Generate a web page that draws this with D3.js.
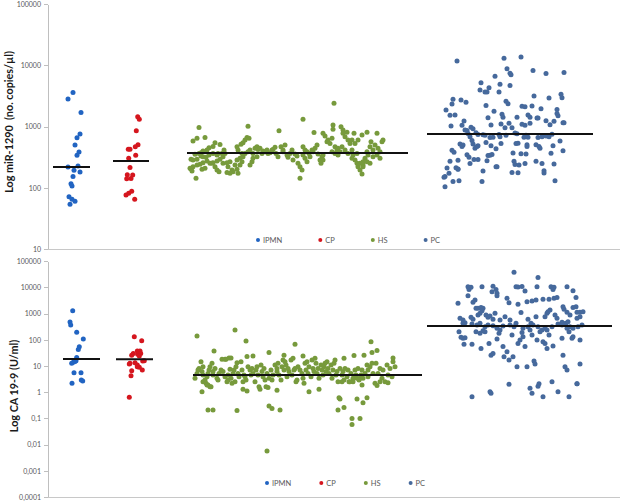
<!DOCTYPE html>
<html lang="en">
<head>
<meta charset="UTF-8">
<title>miR-1290 and CA 19-9</title>
<script src="https://cdn.jsdelivr.net/npm/d3@7"></script>
<style>
  body { margin: 0; background: #fff; }
  svg text { font-family: Lato, "Open Sans", sans-serif; fill: #595959; }
  .axis path, .axis line { stroke: #bfbfbf; shape-rendering: crispEdges; }
  .ytitle { font-weight: bold; fill: #1a1a1a; white-space: pre; }
</style>
</head>
<body>
<script>
// groups and colours
const groups = ["IPMN", "CP", "HS", "PC"];
const groupColors = ["#2164c2", "#d5161e", "#779a3c", "#46699c"];

// ---- top panel: miR-1290 (no. copies/µl), points are [x jitter, value] ----
const mirIPMN = [[33,3600],[28,2800],[41,1700],[40,755],[37,656],[35,500],[39,383],[37,339],[28,218],[38,227],
  [34,193],[40,181],[33,152],[31,116],[32,107],[29,71],[32,65],[35,60],[30,54]];
const mirCP = [[97.7,1446],[99.3,1310],[96.3,855],[98,503],[95.3,467],[90,424],[88.3,424],[95.7,338],[88.7,302],
  [90,215],[87.3,163],[92.7,161],[91,142],[86.7,140],[91.7,88],[88.7,81],[86,76],[94.7,65]];
const mirHS = [
  [159,960],[153,580],[157,640],[165,660],[175,545],[180,510],[173,470],[169,450],[167,413],[163,398],
  [161,373],[159,364],[155,351],[151,291],[153,284],[157,291],[161,330],[163,322],[166,314],[169,343],
  [173,364],[177,343],[178,364],[182,364],[184,413],[185,364],[183,322],[180,291],[177,273],[173,257],
  [170,251],[167,273],[163,257],[160,242],[157,235],[153,221],[151,203],[150,208],[152,188],[156,143],
  [162,200],[165,208],[172,251],[175,221],[177,195],[179,183],[183,251],[187,257],[190,267],[188,221],
  [192,195],[193,183],[190,172],[187,177],[197,200],[198,172],[195,235],[197,284],[200,303],[202,364],
  [198,413],[197,469],[201,511],[203,543],[205,602],[207,660],[208,1010],[209,641],[210,413],[208,388],
  [205,364],[203,322],[202,267],[200,235],[210,235],[212,267],[213,364],[215,440],[217,469],[218,423],
  [220,440],[222,364],[223,398],[217,322],[213,303],
  [225,388],[227,413],[228,364],[230,373],[232,413],[233,423],[235,458],[236,364],[238,322],[239,855],
  [241,469],[243,388],[243,413],[245,499],[247,343],[248,314],[250,364],[252,413],[253,284],[255,356],
  [257,330],[258,251],[260,221],[262,195],[260,143],[263,1310],[263,469],[265,413],[267,388],[263,343],
  [265,303],[267,267],[270,322],[269,364],[272,413],[273,388],[275,440],[277,499],[274,795],[278,356],
  [280,284],[282,322],[283,343],[283,284],[281,251],
  [283,775],[285,700],[287,565],[288,602],[290,530],[292,641],[293,900],[294,2400],[293,1060],[295,469],
  [297,413],[298,440],[300,388],[301,995],[303,877],[303,775],[305,683],[307,805],[308,602],[310,530],
  [312,413],[313,343],[314,775],[315,284],[317,251],[318,221],[320,195],[322,168],[323,235],[323,267],
  [325,303],[327,388],[328,343],[330,469],[331,565],[327,805],[322,727],[318,602],[315,530],[312,602],
  [333,413],[335,499],[337,775],[338,440],[340,388],[342,565],[343,602],[340,303],[337,343],[333,322],
  [330,251],[327,267],[323,221],[320,251],[317,364],[312,303],[308,364],[305,413],[302,469],[298,343],
  [295,364],[292,388]];
const mirPC = [
  [417,11700],[464,13000],[481,13600],[467,8800],[470,7400],[471,7000],[455,6600],[493,8200],[506,7300],[524,7650],
  [441,5200],[460,4900],[470,4650],[449,4300],[440,3940],[445,3660],[447,3660],[459,3660],[494,3150],[509,2920],
  [521,3350],[522,2950],[413,2780],[412,2330],[421,2700],[426,2480],[466,2580],[468,2350],[446,2200],[406,1860],
  [410,1520],[415,1540],[454,1770],[462,1580],[463,1410],[482,2140],[485,2110],[492,2160],[501,1950],[517,1890],
  [517,1630],[518,1500],[477,1410],[488,1540],[490,1410],[497,1380],[498,1380],[506,1240],[514,1220],[523,1150],
  [524,1150],[411,1020],[422,1050],[424,1230],[448,1390],[451,1060],[461,1100],[469,1130],[431,970],[433,920],
  [425,880],[427,860],[465,950],[472,950],[482,1090],[485,1050],[490,1130],[510,1070],[436,790],[438,740],
  [443,730],[445,720],[450,660],[453,670],[459,740],[460,680],[466,720],[475,780],[477,760],[484,670],
  [486,720],[488,670],[498,660],[502,680],[506,700],[509,680],[512,750],[428,770],[430,680],[432,590],
  [420,520],[423,500],[422,470],[412,410],[414,380],[433,520],[435,440],[437,470],[438,485],[446,550],
  [451,485],[456,435],[461,530],[476,530],[478,535],[487,505],[487,470],[496,505],[499,470],[500,440],
  [513,485],[520,580],[523,400],[427,345],[429,315],[434,290],[438,290],[448,335],[450,340],[452,350],
  [473,370],[481,360],[486,355],[511,365],[430,250],[410,270],[418,280],[418,200],[447,275],[474,270],
  [475,240],[479,235],[485,250],[496,272],[502,250],[514,245],[456,220],[457,220],[407,210],[409,172],
  [405,152],[404,148],[416,213],[418,203],[443,188],[472,178],[478,175],[504,190],[504,174],[413,127],
  [419,130],[442,127],[515,130],[405,104]];
const mirMedians = [218, 273, 369, 753];
const mirMedianSpans = [[13,50],[73,109],[147,368],[387,553]];
const mirTicks = [10, 100, 1000, 10000, 100000];
const mirTickLabels = ["10", "100", "1000", "10000", "100000"];

// ---- bottom panel: CA 19-9 (U/ml) ----
const caIPMN = [[32.7,1290],[30,480],[30.7,370],[36.7,193],[43.3,107],[39.3,54],[38.3,43],[36.7,21],[36,16],
  [33.3,14],[31.7,12.7],[34,5.5],[41,5.5],[32,2.2],[41.3,2.9],[42.7,2.7],[35,15]];
const caCP = [[94.3,131],[101.7,92],[91.7,26],[93.3,30],[97.3,37],[100,37],[97.7,28],[100.7,30],[99.3,24],
  [90,12.7],[95,13.4],[97.3,10.9],[99.3,8.9],[102.7,15.5],[104.3,16],[91.7,6.6],[91,4.2],[102.3,7],
  [89.3,0.64],[97.3,9.4],[89.3,12]];
const caHS = [
  [157,140],[195,237],[206,90],[174,37],[229,33],[255,68],[331,85],[263,24],[244,26],[185,18],
  [189,20],[337,39],[332,33],[324,26],[314,25],[304,19.6],[353,20],
  [168,0.21],[173,0.21],[197,0.2],[229,0.3],[232,0.24],[240,0.21],[299,0.62],[300,0.55],[298,0.21],
  [304,0.26],[312,0.099],[312,0.058],[320,0.099],[317,0.55],[323,0.4],[327,0.62],[162,1.05],[170,1.6],
  [168,1.9],[203,1.3],[207,1.1],[220,1.3],[228,1.5],[237,1.2],[269,1.05],[279,1.3],[302,2.5],[310,2.5],
  [313,2.5],[320,3.4],[322,1.9],[328,3.9],[337,1.8],[340,2.5],[348,2.3],[227,0.0057],
  [155,3.4],[157,5.2],[158,7.0],[159,8.1],[161,14.6],[162,6.1],[163,4.5],[163,2.5],[165,2.9],[167,3.9],
  [166,2.2],[168,5.2],[169,7.0],[170,9.4],[172,12.7],[173,4.5],[173,6.1],[163,9.4],[167,1.9],[171,1.6],
  [175,8.1],[177,3.4],[178,2.9],[179,5.2],[181,7.0],[182,18],[183,6.1],[185,3.9],[186,18],[187,2.5],
  [188,2.9],[188,4.5],[190,7.5],[191,3.4],[192,2.2],[193,5.2],[194,7.0],[195,2.5],[196,9.4],[191,20],
  [197,13.4],[198,5.2],[199,3.9],[201,14.6],[202,7.0],[203,2.5],[204,4.5],[205,3.9],[206,2.9],[207,22.8],
  [208,9.4],[210,7.0],[211,4.5],[212,8.1],[213,24],[213,5.2],[215,2.5],[216,7.0],[217,9.4],[218,4.5],
  [219,1.6],[221,10.9],[222,6.1],[223,3.9],[224,8.1],[225,2.9],[226,1.6],[227,5.2],[229,3.4],[231,7.0],
  [232,2.9],[233,4.5],[235,10.9],[237,6.1],[237,8.1],[238,12.7],[239,4.5],[241,2.9],[242,9.4],[243,17],
  [244,7.0],[245,14.6],[246,10.9],[247,3.9],[248,8.1],[249,6.1],[251,17],[252,4.5],[253,19.6],[254,7.0],
  [255,8.1],[256,2.5],[257,2.9],[258,9.4],[260,7.0],[262,5.2],[263,3.4],[264,2.2],[265,12.7],[266,7.0],
  [267,14.6],[268,5.2],[269,9.4],[271,3.9],[272,17],[273,8.1],[274,6.1],[275,19.6],[276,12.7],[277,5.2],
  [278,8.1],[279,3.4],[281,10.9],[282,7.0],[283,4.5],[284,9.4],[285,12.7],[286,6.1],[287,14.6],[288,8.1],
  [289,5.2],[291,10.9],[292,3.4],[293,7.0],[294,12.7],[295,17],[296,4.5],[297,6.1],[298,2.5],[300,8.1],
  [302,4.5],[303,6.1],[304,2.9],[305,8.1],[307,3.9],[308,7.0],[309,2.5],[311,5.2],[313,3.4],[315,7.0],
  [316,4.5],[317,3.4],[318,8.1],[319,2.9],[321,4.5],[322,7.0],[323,3.4],[325,5.2],[327,10.9],[328,7.0],
  [330,9.4],[332,12.7],[333,5.2],[335,2.2],[336,12.7],[338,5.2],[340,8.1],[342,3.4],[343,7.0],[345,2.5],
  [347,10.9],[348,4.5],[350,8.1],[352,3.9],[353,14.6],[355,9.4]];
const caPC = [
  [474,37600],[498,24000],[428,10600],[431,10200],[429,8400],[442,10600],[453,11000],[456,8400],[452,6860],[476,10600],
  [478,10400],[482,10800],[497,10600],[485,7300],[511,10600],[514,10200],[513,8400],[527,10600],[533,7500],
  [418,2470],[428,4800],[435,3310],[433,2700],[436,1590],[438,1590],[441,1700],[443,1590],[457,5950],[457,4800],
  [467,3840],[469,2600],[478,2270],[487,2850],[492,3000],[496,3310],[503,3500],[509,3500],[514,3840],[517,4100],
  [523,1840],[524,1460],[533,1700],[536,1840],[536,4100],[537,1120],[540,1120],[543,1180],[530,885],[527,1120],
  [420,662],[423,570],[431,720],[433,610],[438,885],[440,1030],[442,1290],[446,885],[448,720],[450,810],
  [455,1030],[453,610],[460,570],[465,762],[470,570],[481,1090],[488,610],[491,426],[496,762],[505,762],
  [507,1030],[510,1370],[508,1180],[515,885],[517,662],[522,465],[526,426],[528,491],[537,662],[540,762],
  [423,426],[425,450],[432,400],[437,367],[440,426],[445,316],[448,367],[453,345],[457,275],[460,237],
  [463,335],[470,367],[474,316],[476,426],[483,275],[488,316],[493,367],[498,316],[502,237],[505,275],
  [507,237],[512,316],[518,400],[522,367],[523,426],[527,275],[530,316],[533,275],[538,316],[542,367],
  [419,204],[421,124],[423,114],[425,120],[424,67],[432,67],[436,204],[440,177],[441,47],[443,222],
  [445,204],[449,73],[451,26],[453,30],[457,107],[459,177],[463,55],[464,22.6],[467,35],[469,17],
  [472,153],[473,22.6],[477,9.4],[478,73],[480,98],[482,188],[483,131],[485,55],[487,9.4],[490,237],
  [492,153],[494,15.5],[495,12],[497,98],[500,204],[503,85],[505,73],[507,47],[509,153],[513,58],
  [522,114],[523,26],[525,9.4],[527,7.0],[529,204],[532,114],[533,131],[540,98],[540,12],[537,2.1],
  [432,0.67],[450,1.05],[451,0.91],[469,2.0],[490,1.4],[492,0.91],[498,1.7],[499,2.1],[503,0.67],[512,2.5],
  [518,1.05],[529,0.67],[537,2.1]];
const caMedians = [18.5, 18, 4.5, 340];
const caMedianSpans = [[23,60],[76,113],[153,382],[387,572]];
const caTicks = [0.0001, 0.001, 0.01, 0.1, 1, 10, 100, 1000, 10000, 100000];
const caTickLabels = ["0,0001", "0,001", "0,01", "0,1", "1", "10", "100", "1000", "10000", "100000"];

const W = 625, H = 502;
const svg = d3.select("body").append("svg")
  .attr("width", W).attr("height", H);

// shared horizontal scale (jitter positions of the scatter)
const x = d3.scaleLinear().domain([0, 580]).range([40, 620]);
const axisX = 48;

var drawPanel = p => {
  const y = d3.scaleLog().domain(p.domain).range(p.range);
  const g = svg.append("g");

  // y axis
  g.append("g")
    .attr("class", "axis")
    .attr("transform", `translate(${axisX},0)`)
    .call(d3.axisLeft(y)
      .tickValues(p.ticks)
      .tickFormat((d, i) => p.labels[i])
      .tickSize(4)
      .tickSizeOuter(0))
    .call(a => a.selectAll("text").attr("font-size", 7).attr("x", -7).style("fill", "#595959"));

  // baseline
  g.append("line")
    .attr("x1", axisX).attr("x2", 620)
    .attr("y1", y(p.domain[0]) + 0.5).attr("y2", y(p.domain[0]) + 0.5)
    .attr("stroke", "#c8c8c8");

  // points
  p.series.forEach((s, i) => {
    g.append("g").selectAll("circle")
      .data(s).enter().append("circle")
      .attr("cx", d => x(d[0]))
      .attr("cy", d => y(d[1]))
      .attr("r", 2.5)
      .attr("fill", groupColors[i]);
  });

  // median lines
  g.append("g").selectAll("line")
    .data(p.medians).enter().append("line")
    .attr("x1", (d, i) => x(p.spans[i][0]))
    .attr("x2", (d, i) => x(p.spans[i][1]))
    .attr("y1", d => y(d))
    .attr("y2", d => y(d))
    .attr("stroke", "#111")
    .attr("stroke-width", 2);

  // y title
  g.append("text")
    .attr("class", "ytitle")
    .attr("transform", `translate(${p.titleX},${p.titleY}) rotate(-90)`)
    .attr("text-anchor", "middle")
    .attr("font-size", 10.8)
    .attr("dy", "0.35em")
    .style("fill", "#1a1a1a")
    .text(p.title);

  // legend
  const leg = g.append("g").attr("transform", `translate(${p.legendX},${p.legendY})`);
  let off = 0;
  groups.forEach((name, i) => {
    const item = leg.append("g").attr("transform", `translate(${off},0)`);
    item.append("circle").attr("r", 2).attr("fill", groupColors[i]);
    const t = item.append("text")
      .attr("x", 5).attr("dy", "0.35em")
      .attr("font-size", 7.5)
      .text(name);
    off += 5 + t.node().getComputedTextLength() + p.legendGap;
  });
};

drawPanel({
  domain: [10, 100000], range: [249, 4],
  ticks: mirTicks, labels: mirTickLabels,
  series: [mirIPMN, mirCP, mirHS, mirPC],
  medians: mirMedians, spans: mirMedianSpans,
  title: "Log miR-1290  (no. copies/µl)", titleX: 9, titleY: 122,
  legendX: 258, legendY: 240, legendGap: 38
});

drawPanel({
  domain: [0.0001, 100000], range: [497, 261.2],
  ticks: caTicks, labels: caTickLabels,
  series: [caIPMN, caCP, caHS, caPC],
  medians: caMedians, spans: caMedianSpans,
  title: "Log CA 19-9 (U/ml)", titleX: 14, titleY: 386,
  legendX: 267, legendY: 483, legendGap: 30
});
</script>
</body>
</html>
